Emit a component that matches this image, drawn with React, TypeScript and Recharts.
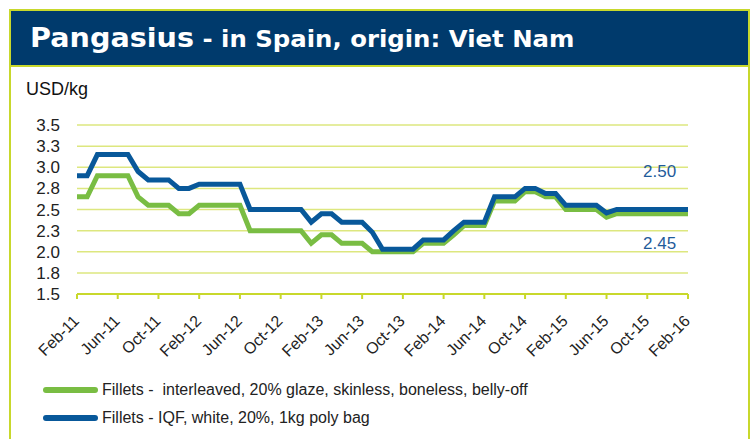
import { LineChart, Line, XAxis, YAxis, CartesianGrid } from "recharts";

const months = [
  "Feb-11", "Mar-11", "Apr-11", "May-11", "Jun-11", "Jul-11", "Aug-11", "Sep-11", "Oct-11", "Nov-11", "Dec-11",
  "Jan-12", "Feb-12", "Mar-12", "Apr-12", "May-12", "Jun-12", "Jul-12", "Aug-12", "Sep-12", "Oct-12", "Nov-12", "Dec-12",
  "Jan-13", "Feb-13", "Mar-13", "Apr-13", "May-13", "Jun-13", "Jul-13", "Aug-13", "Sep-13", "Oct-13", "Nov-13", "Dec-13",
  "Jan-14", "Feb-14", "Mar-14", "Apr-14", "May-14", "Jun-14", "Jul-14", "Aug-14", "Sep-14", "Oct-14", "Nov-14", "Dec-14",
  "Jan-15", "Feb-15", "Mar-15", "Apr-15", "May-15", "Jun-15", "Jul-15", "Aug-15", "Sep-15", "Oct-15", "Nov-15", "Dec-15",
  "Jan-16", "Feb-16",
];

// Fillets - interleaved, 20% glaze, skinless, boneless, belly-off
const interleaved = [
  2.65, 2.65, 2.9, 2.9, 2.9, 2.9, 2.65, 2.55, 2.55, 2.55, 2.45,
  2.45, 2.55, 2.55, 2.55, 2.55, 2.55, 2.25, 2.25, 2.25, 2.25, 2.25, 2.25,
  2.1, 2.2, 2.2, 2.1, 2.1, 2.1, 2.0, 2.0, 2.0, 2.0, 2.0, 2.1,
  2.1, 2.1, 2.2, 2.31, 2.31, 2.31, 2.6, 2.6, 2.6, 2.71, 2.71, 2.65,
  2.65, 2.5, 2.5, 2.5, 2.5, 2.41, 2.45, 2.45, 2.45, 2.45, 2.45, 2.45,
  2.45, 2.45,
];

// Fillets - IQF, white, 20%, 1kg poly bag
const iqf = [
  2.9, 2.9, 3.15, 3.15, 3.15, 3.15, 2.95, 2.85, 2.85, 2.85, 2.75,
  2.75, 2.8, 2.8, 2.8, 2.8, 2.8, 2.5, 2.5, 2.5, 2.5, 2.5, 2.5,
  2.35, 2.45, 2.45, 2.35, 2.35, 2.35, 2.23, 2.03, 2.03, 2.03, 2.03, 2.14,
  2.14, 2.14, 2.25, 2.35, 2.35, 2.35, 2.65, 2.65, 2.65, 2.75, 2.75, 2.69,
  2.69, 2.55, 2.55, 2.55, 2.55, 2.46, 2.5, 2.5, 2.5, 2.5, 2.5, 2.5,
  2.5, 2.5,
];

const yTicks = [1.5, 1.75, 2.0, 2.25, 2.5, 2.75, 3.0, 3.25, 3.5];

const data = months.map((month, i) => ({
  month,
  interleaved: interleaved[i],
  iqf: iqf[i],
}));

const LIME = "#c8d82c";
const NAVY = "#003a6c";
const GREEN = "#79bd43";
const BLUE = "#08589a";

const MonthTick = (props: any) => {
  const { x, y, payload } = props;
  return (
    <g transform={`translate(${x + 3},${y + 21})`}>
      <text
        x={0}
        y={0}
        textAnchor="end"
        transform="rotate(-45)"
        fontSize={16}
        fontFamily="Liberation Sans, Arial, sans-serif"
        fill="#222"
      >
        {payload.value}
      </text>
    </g>
  );
};

export default function App() {
  return (
    <div
      style={{
        position: "absolute",
        left: 0,
        top: 0,
        width: 752,
        height: 439,
        background: "#fff",
        overflow: "hidden",
        fontFamily: "Liberation Sans, Arial, sans-serif",
      }}
    >
      <div
        style={{
          position: "absolute",
          left: 9,
          top: 9,
          width: 737,
          height: 440,
          border: `2px solid ${LIME}`,
        }}
      />
      <div
        style={{
          position: "absolute",
          left: 11,
          top: 11,
          width: 737,
          height: 54,
          background: NAVY,
          borderBottom: `2px solid ${LIME}`,
        }}
      />
      <div
        style={{
          position: "absolute",
          left: 30,
          top: 22,
          color: "#fff",
          fontFamily: "DejaVu Sans, Verdana, sans-serif",
          fontWeight: "bold",
          whiteSpace: "nowrap",
          transform: "scaleX(1.06)",
          transformOrigin: "left",
        }}
      >
        <span style={{ fontSize: 27 }}>Pangasius</span>
        <span style={{ fontSize: 23 }}> - in Spain, origin: Viet Nam</span>
      </div>
      <div
        style={{
          position: "absolute",
          left: 26,
          top: 79,
          fontSize: 18,
          color: "#111",
        }}
      >
        USD/kg
      </div>

      <div style={{ position: "absolute", left: 0, top: 0 }}>
        <LineChart
          width={752}
          height={439}
          data={data}
          margin={{ top: 125, right: 64, bottom: 85, left: 7 }}
        >
          <CartesianGrid
            vertical={false}
            stroke="#dde77f"
            strokeWidth={1.5}
          />
          <XAxis
            dataKey="month"
            interval={3}
            height={60}
            axisLine={{ stroke: LIME, strokeWidth: 2 }}
            tickLine={{ stroke: LIME, strokeWidth: 2 }}
            tickSize={5}
            tick={<MonthTick />}
          />
          <YAxis
            width={70}
            domain={[1.5, 3.5]}
            ticks={yTicks}
            interval={0}
            axisLine={false}
            tickLine={false}
            tickSize={0}
            tickMargin={17}
            tickFormatter={(v: number) => v.toFixed(1)}
            tick={{ fontSize: 17, fill: "#222", fontFamily: "Liberation Sans, Arial, sans-serif" }}
          />
          <Line
            type="linear"
            dataKey="interleaved"
            stroke={GREEN}
            strokeWidth={5}
            dot={false}
            isAnimationActive={false}
          />
          <Line
            type="linear"
            dataKey="iqf"
            stroke={BLUE}
            strokeWidth={5}
            dot={false}
            isAnimationActive={false}
          />
        </LineChart>
      </div>

      <div style={{ position: "absolute", left: 643, top: 162, fontSize: 17, color: "#1f5b9a" }}>
        2.50
      </div>
      <div style={{ position: "absolute", left: 643, top: 234, fontSize: 17, color: "#1f5b9a" }}>
        2.45
      </div>

      {[
        { color: GREEN, label: "Fillets -  interleaved, 20% glaze, skinless, boneless, belly-off", y: 390 },
        { color: BLUE, label: "Fillets - IQF, white, 20%, 1kg poly bag", y: 418 },
      ].map((item) => (
        <div key={item.label}>
          <div
            style={{
              position: "absolute",
              left: 43,
              top: item.y - 3,
              width: 55,
              height: 6,
              borderRadius: 3,
              background: item.color,
            }}
          />
          <div
            style={{
              position: "absolute",
              left: 102,
              top: item.y - 10,
              fontSize: 16,
              lineHeight: "19px",
              color: "#222",
              whiteSpace: "pre",
            }}
          >
            {item.label}
          </div>
        </div>
      ))}
    </div>
  );
}
